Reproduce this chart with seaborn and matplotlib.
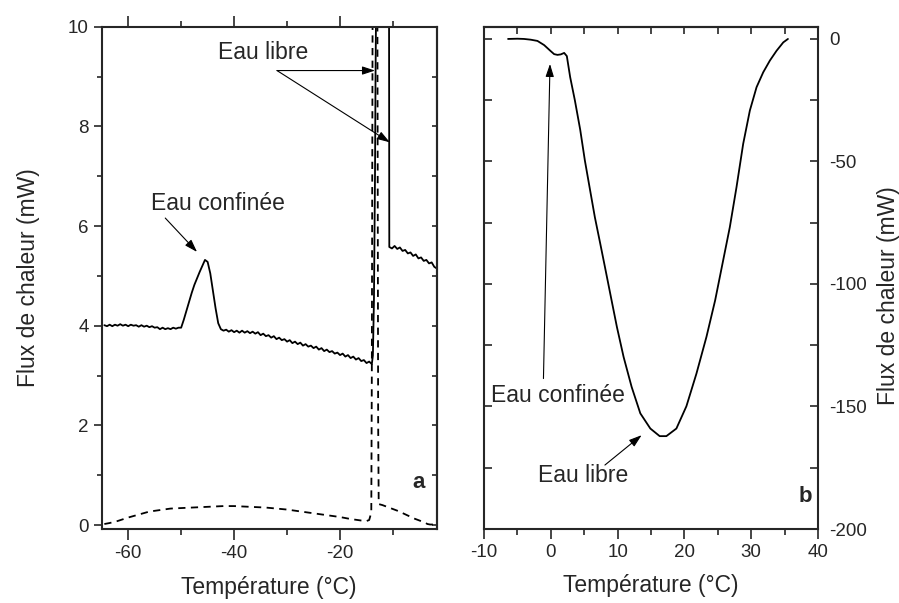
import numpy as np
import matplotlib
matplotlib.use("Agg")
import matplotlib.pyplot as plt
import seaborn as sns
from matplotlib.ticker import MultipleLocator

# --- panel a : solid curve (Flux de chaleur, mW) ---
solid_T = [-64.5, -64.0, -63.5, -63.0, -62.5, -62.0, -61.5, -61.0, -60.5, -60.0,
           -59.5, -59.0, -58.5, -58.0, -57.5, -57.0, -56.5, -56.0, -55.5, -55.0,
           -54.5, -54.0, -53.5, -53.0, -52.5, -52.0, -51.5, -51.0, -50.5, -50.0,
           -49.5, -49.0, -48.5, -48.0, -47.5, -47.0, -46.5, -46.0, -45.5, -45.0,
           -44.5, -44.0, -43.5, -43.0, -42.5, -42.0,
           -41.5, -41.0, -40.5, -40.0, -39.5, -39.0, -38.5, -38.0, -37.5, -37.0,
           -36.5, -36.0, -35.5, -35.0, -34.5, -34.0, -33.5, -33.0, -32.5, -32.0,
           -31.5, -31.0, -30.5, -30.0, -29.5, -29.0, -28.5, -28.0, -27.5, -27.0,
           -26.5, -26.0, -25.5, -25.0, -24.5, -24.0, -23.5, -23.0, -22.5, -22.0,
           -21.5, -21.0, -20.5, -20.0, -19.5, -19.0, -18.5, -18.0, -17.5, -17.0,
           -16.5, -16.0, -15.5, -15.0, -14.5, -14.0,
           -13.8, -13.6, -13.4, -13.3, -13.2, -13.0, -11.0, -10.75, -10.7,
           -10.2, -9.7, -9.2, -8.7, -8.2, -7.7, -7.2, -6.7, -6.2, -5.7,
           -5.2, -4.7, -4.2, -3.7, -3.2, -2.7, -2.2, -1.75]
solid_Y = [4.01, 3.99, 4.02, 3.99, 4.02, 4.00, 4.03, 4.00, 4.02, 3.99,
           4.02, 4.00, 4.01, 3.98, 4.01, 3.98, 4.00, 3.97, 3.99, 3.96,
           3.97, 3.93, 3.96, 3.93, 3.95, 3.93, 3.96, 3.94, 3.96, 3.96,
           4.12, 4.30, 4.48, 4.66, 4.82, 4.95, 5.08, 5.20, 5.32, 5.28,
           5.05, 4.70, 4.35, 4.05, 3.93, 3.90,
           3.92, 3.88, 3.91, 3.87, 3.90, 3.86, 3.90, 3.86, 3.89, 3.85,
           3.88, 3.84, 3.87, 3.81, 3.84, 3.79, 3.81, 3.76, 3.79, 3.73,
           3.76, 3.71, 3.73, 3.68, 3.71, 3.65, 3.68, 3.63, 3.66, 3.60,
           3.63, 3.58, 3.60, 3.55, 3.58, 3.52, 3.55, 3.49, 3.52, 3.47,
           3.49, 3.44, 3.46, 3.41, 3.44, 3.38, 3.41, 3.35, 3.38, 3.32,
           3.35, 3.29, 3.31, 3.25, 3.28, 3.23,
           3.40, 4.50, 7.00, 9.00, 10.5, 11.0, 11.0, 10.5, 5.58,
           5.55, 5.60, 5.54, 5.57, 5.50, 5.52, 5.45, 5.47, 5.40, 5.43,
           5.35, 5.37, 5.30, 5.32, 5.25, 5.27, 5.18, 5.15]

# --- panel a : dashed curve ---
dash_T = [-64.5, -63.5, -62.0, -60.0, -58.0, -56.0, -54.0, -52.0, -50.0, -48.0,
          -46.0, -44.0, -42.0, -40.0, -38.0, -36.0, -34.0, -32.0, -30.0, -28.0,
          -26.0, -24.0, -22.0, -20.0, -18.0, -16.0, -15.0, -14.5, -14.1, -14.0,
          -13.85, -13.8, -13.0, -12.95, -12.8, -12.7, -12.0, -11.0, -10.0, -9.0,
          -8.0, -7.0, -6.0, -5.0, -4.0, -3.5, -3.0, -2.0, -1.75]
dash_Y = [0.02, 0.04, 0.08, 0.15, 0.21, 0.27, 0.30, 0.33, 0.34, 0.35,
          0.36, 0.37, 0.38, 0.38, 0.37, 0.36, 0.35, 0.33, 0.31, 0.28,
          0.25, 0.22, 0.19, 0.16, 0.12, 0.09, 0.08, 0.10, 0.25, 3.0,
          10.5, 11.0, 11.0, 10.5, 2.0, 0.42, 0.40, 0.36, 0.32, 0.28,
          0.23, 0.18, 0.13, 0.09, 0.05, 0.02, 0.01, 0.01, 0.01]

# --- panel b ---
b_T = [-6.4, -5.0, -4.0, -3.0, -2.0, -1.0, 0.0, 0.5, 1.0, 1.5, 2.0, 2.4, 2.9, 3.6,
       4.4, 5.1, 5.9, 6.6, 7.4, 8.1, 9.1, 9.9, 10.9, 12.1, 13.4, 14.9, 16.3, 17.3,
       18.8, 20.3, 21.8, 23.3, 24.6, 25.8, 26.8, 27.8, 28.8, 29.8, 30.8, 31.8,
       32.8, 33.8, 34.8, 35.5]
b_Y = [0.0, 0.1, 0.0, -0.3, -0.8, -2.5, -5.0, -6.2, -6.5, -6.3, -5.7, -7.0, -15.6, -25.0,
       -37.0, -49.6, -62.0, -72.8, -83.5, -93.0, -106.7, -117.6, -129.8, -142.0, -152.8,
       -159.0, -162.1, -162.1, -159.0, -149.9, -136.6, -121.6, -106.7, -90.4, -76.8,
       -60.5, -42.8, -29.2, -19.7, -13.6, -8.8, -4.8, -1.4, 0.0]

sns.set_style("ticks")
plt.rcParams["font.family"] = ["Liberation Sans", "DejaVu Sans"]
plt.rcParams["axes.unicode_minus"] = False

FS_LAB = 16.5
FS_TICK = 13.5
LW = 1.3

fig = plt.figure(figsize=(8.99, 6.03), dpi=100)
W, H = 899.0, 603.0
ax_a = fig.add_axes([101.7 / W, (H - 529) / H, 335.0 / W, 502.3 / H])
ax_b = fig.add_axes([484.0 / W, (H - 529) / H, 334.0 / W, 502.3 / H])

sns.lineplot(x=solid_T, y=solid_Y, sort=False, estimator=None, color="black",
             lw=LW, ax=ax_a)
sns.lineplot(x=dash_T, y=dash_Y, sort=False, estimator=None, color="black",
             lw=LW, linestyle=(0, (4, 3)), ax=ax_a)
sns.lineplot(x=b_T, y=b_Y, sort=False, estimator=None, color="black",
             lw=LW, ax=ax_b)

ax_a.set_xlim(-65, -1.75)
ax_a.set_ylim(-0.08, 10)
ax_b.set_xlim(-10, 40)
ax_b.set_ylim(-200, 5)

for ax in (ax_a, ax_b):
    for sp in ax.spines.values():
        sp.set_visible(True)
        sp.set_linewidth(1.5)

# panel a ticks
ax_a.xaxis.set_major_locator(MultipleLocator(20))
ax_a.xaxis.set_minor_locator(MultipleLocator(10))
ax_a.yaxis.set_major_locator(MultipleLocator(2))
ax_a.yaxis.set_minor_locator(MultipleLocator(1))
ax_a.tick_params(axis="x", which="both", direction="out", top=True, bottom=True,
                 labelsize=FS_TICK, width=1.2)
ax_a.tick_params(axis="x", which="major", length=8)
ax_a.tick_params(axis="x", which="minor", length=4.5)
ax_a.tick_params(axis="y", which="both", direction="out", left=True, right=False,
                 labelsize=FS_TICK, width=1.2)
ax_a.tick_params(axis="y", which="major", length=6)
ax_a.tick_params(axis="y", which="minor", length=3.5)
sec_a = ax_a.secondary_yaxis("right")
sec_a.yaxis.set_major_locator(MultipleLocator(1))
sec_a.tick_params(direction="in", length=3.8, width=1.2, labelright=False)
sec_a.spines["right"].set_linewidth(1.5)

# panel b ticks
ax_b.xaxis.set_major_locator(MultipleLocator(10))
ax_b.xaxis.set_minor_locator(MultipleLocator(5))
ax_b.yaxis.set_major_locator(MultipleLocator(50))
ax_b.yaxis.set_minor_locator(MultipleLocator(25))
ax_b.tick_params(axis="x", which="both", direction="out", top=False, bottom=True,
                 labelsize=FS_TICK, width=1.2)
ax_b.tick_params(axis="x", which="major", length=7)
ax_b.tick_params(axis="x", which="minor", length=4.5)
ax_b.tick_params(axis="y", which="both", direction="in", left=True, right=True,
                 labelleft=False, labelright=True, labelsize=FS_TICK, width=1.2,
                 length=6, pad=8)
sec_b = ax_b.secondary_xaxis("top")
sec_b.xaxis.set_major_locator(MultipleLocator(5))
sec_b.tick_params(direction="in", length=5, width=1.2, labeltop=False)
sec_b.spines["top"].set_linewidth(1.5)

ax_a.set_xlabel("Température (°C)", fontsize=FS_LAB, labelpad=10)
ax_a.set_ylabel("Flux de chaleur (mW)", fontsize=FS_LAB, labelpad=20)
ax_b.set_xlabel("Température (°C)", fontsize=FS_LAB, labelpad=10)
ax_b.yaxis.set_label_position("right")
ax_b.set_ylabel("Flux de chaleur (mW)", fontsize=FS_LAB)
ax_b.yaxis.set_label_coords(1.178, 0.464)

arrow = dict(arrowstyle="-|>,head_length=0.55,head_width=0.18", color="black",
             lw=0.8, shrinkA=0, shrinkB=0, mutation_scale=14)

# panel a annotations
ax_a.text(-34.6, 9.48, "Eau libre", fontsize=FS_LAB, ha="center", va="center")
ax_a.annotate("", xy=(-13.4, 9.12), xytext=(-31.9, 9.12), arrowprops=arrow)
ax_a.annotate("", xy=(-10.6, 7.68), xytext=(-31.9, 9.12), arrowprops=arrow)
ax_a.text(-43.0, 6.45, "Eau confinée", fontsize=FS_LAB, ha="center", va="center")
ax_a.annotate("", xy=(-47.0, 5.48), xytext=(-53.0, 6.16), arrowprops=arrow)
ax_a.text(-5.2, 0.85, "a", fontsize=16, fontweight="bold", ha="center", va="center")

# panel b annotations
ax_b.text(1.12, -145.6, "Eau confinée", fontsize=FS_LAB, ha="center", va="center")
ax_b.annotate("", xy=(-0.12, -10.2), xytext=(-1.1, -138.6), arrowprops=arrow)
ax_b.text(4.8, -178, "Eau libre", fontsize=FS_LAB, ha="center", va="center")
ax_b.annotate("", xy=(13.6, -161.7), xytext=(8.1, -173.9), arrowprops=arrow)
ax_b.text(38.05, -186.6, "b", fontsize=16, fontweight="bold", ha="center", va="center")

fig.savefig("out.png", dpi=100)
